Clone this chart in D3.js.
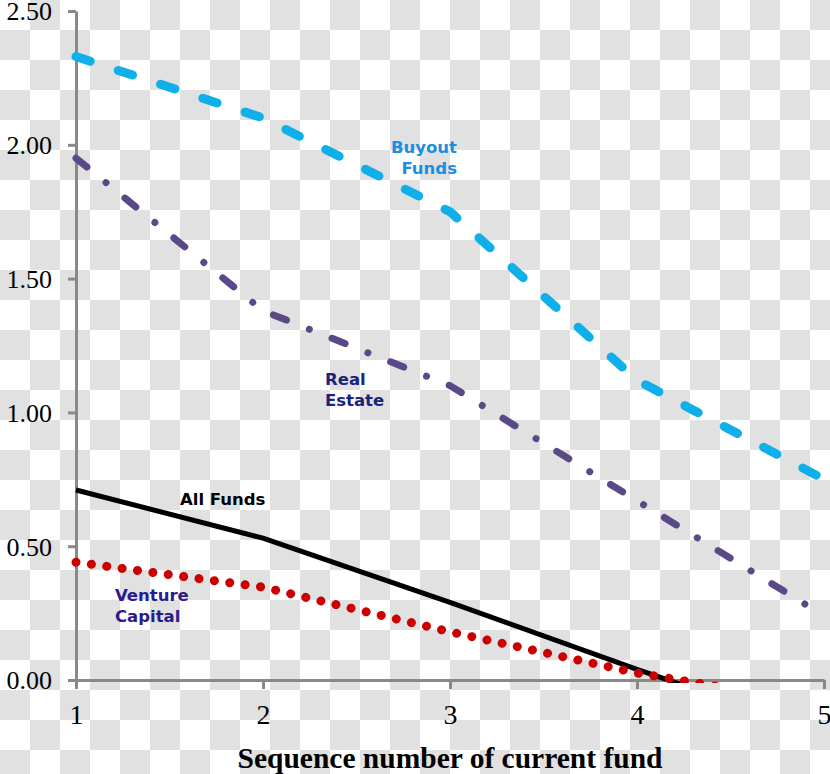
<!DOCTYPE html>
<html>
<head>
<meta charset="utf-8">
<script src="https://cdn.jsdelivr.net/npm/d3@7"></script>
<style>
  body { margin: 0; background: #fff; }
  svg { display: block; }
</style>
</head>
<body>
<div id="chart-container"></div>
<script>
// data
var seq_numbers = [1, 2, 3, 4, 5];
var buyout_funds = [2.33, 2.10, 1.75, 1.12, 0.75];
var real_estate = [1.95, 1.38, 1.10, 0.67, 0.24];
var all_funds = [0.71, 0.53, 0.29, 0.04, -0.20];
var venture_capital = [0.44, 0.347, 0.18, 0.026, -0.09];
var y_ticks = [0, 0.5, 1.0, 1.5, 2.0, 2.5];
var x_title = "Sequence number of current fund";

var svg_width = 830;
var svg_height = 774;

var svg = d3.select("#chart-container")
	.append("svg")
	.attr("width", svg_width)
	.attr("height", svg_height);

// checkerboard background
var defs = svg.append("defs");
var pat = defs.append("pattern")
	.attr("id", "checker")
	.attr("width", 60)
	.attr("height", 60)
	.attr("patternUnits", "userSpaceOnUse");
pat.append("rect").attr("width", 60).attr("height", 60).attr("fill", "#ffffff");
pat.append("rect").attr("x", 30).attr("y", 0).attr("width", 30).attr("height", 30).attr("fill", "#e1e1e1");
pat.append("rect").attr("x", 0).attr("y", 30).attr("width", 30).attr("height", 30).attr("fill", "#e1e1e1");

svg.append("rect")
	.attr("width", svg_width)
	.attr("height", svg_height)
	.attr("fill", "url(#checker)");

defs.append("clipPath")
	.attr("id", "plot-clip")
	.append("rect")
	.attr("x", 0)
	.attr("y", 0)
	.attr("width", svg_width)
	.attr("height", 683);

var x = d3.scaleLinear()
	.domain([1, 5])
	.range([76, 824]);

var y = d3.scaleLinear()
	.domain([0, 2.5])
	.range([680, 11]);

// axes
var y_axis = svg.append("g")
	.attr("transform", "translate(" + x(1) + ",0)")
	.call(d3.axisLeft(y).tickValues(y_ticks).tickFormat(d3.format(".2f")).tickSize(8).tickSizeOuter(0));

var x_axis = svg.append("g")
	.attr("transform", "translate(0," + y(0) + ")")
	.call(d3.axisBottom(x).tickValues(seq_numbers).tickFormat(d3.format("d")).tickSize(9).tickSizeOuter(0));

[y_axis, x_axis].forEach(function(g) {
	g.select(".domain").attr("stroke", "#898989").attr("stroke-width", 3);
	g.selectAll(".tick line").attr("stroke", "#898989").attr("stroke-width", 3);
	g.selectAll(".tick text")
		.attr("fill", "#000")
		.style("font-family", "'Liberation Serif', 'Times New Roman', serif");
});

y_axis.selectAll(".tick text")
	.attr("x", -24)
	.attr("dy", "0.34em")
	.style("font-size", "26px");

x_axis.selectAll(".tick text")
	.attr("y", 24)
	.attr("dy", "0.71em")
	.style("font-size", "28px");

svg.append("text")
	.attr("x", 450)
	.attr("y", 768)
	.attr("text-anchor", "middle")
	.style("font-family", "'Liberation Serif', 'Times New Roman', serif")
	.style("font-weight", "bold")
	.style("font-size", "29.5px")
	.text(x_title);

// series
var series = [
	{ name: "buyout", values: buyout_funds, color: "#0fb0ea", width: 9, dash: "15,29.5" },
	{ name: "real-estate", values: real_estate, color: "#5a4987", width: 7, dash: "14,24.5,0.01,24.3" },
	{ name: "all", values: all_funds, color: "#000000", width: 5, dash: null },
	{ name: "venture", values: venture_capital, color: "#cc0000", width: 9, dash: "0.01,15.5" }
];

var line = d3.line()
	.x(function(d, i) { return x(seq_numbers[i]); })
	.y(function(d) { return y(d); });

var lines_g = svg.append("g").attr("clip-path", "url(#plot-clip)");

lines_g.selectAll(".series")
	.data(series)
	.enter()
	.append("path")
	.attr("class", function(d) { return "series " + d.name; })
	.attr("d", function(d) { return line(d.values); })
	.attr("fill", "none")
	.attr("stroke", function(d) { return d.color; })
	.attr("stroke-width", function(d) { return d.width; })
	.attr("stroke-dasharray", function(d) { return d.dash; })
	.attr("stroke-linecap", function(d) { return d.dash ? "round" : "butt"; })
	.attr("stroke-linejoin", "round");

// stretch the dash-dot a little so the line ends on a gap after a dot, as in the original
var re_path = lines_g.select(".real-estate");
var re_len = re_path.node().getTotalLength();
var re_dash = [14, 24.5, 0.01, 24.3];
var re_period = d3.sum(re_dash);
var re_target = re_len - 22.5;
var re_n = Math.round((re_target - 38.5) / re_period);
var re_scale = re_target / (re_n * re_period + 38.5);
re_path.attr("stroke-dasharray", re_dash.map(function(v) { return v * re_scale; }).join(","));

// series labels
var labels = [
	{ lines: ["Buyout", "Funds"], x: 457, y: 153, anchor: "end", color: "#1b8de2" },
	{ lines: ["Real", "Estate"], x: 325, y: 385, anchor: "start", color: "#1a237e" },
	{ lines: ["All Funds"], x: 180, y: 505, anchor: "start", color: "#000000" },
	{ lines: ["Venture", "Capital"], x: 115, y: 601, anchor: "start", color: "#2a1a8c" }
];

labels.forEach(function(l) {
	var t = svg.append("text")
		.attr("text-anchor", l.anchor)
		.attr("fill", l.color)
		.style("font-family", "'DejaVu Sans', Verdana, sans-serif")
		.style("font-weight", "bold")
		.style("font-size", "16.5px");
	l.lines.forEach(function(s, i) {
		t.append("tspan")
			.attr("x", l.x)
			.attr("y", l.y + i * 20.5)
			.text(s);
	});
});
</script>
</body>
</html>
